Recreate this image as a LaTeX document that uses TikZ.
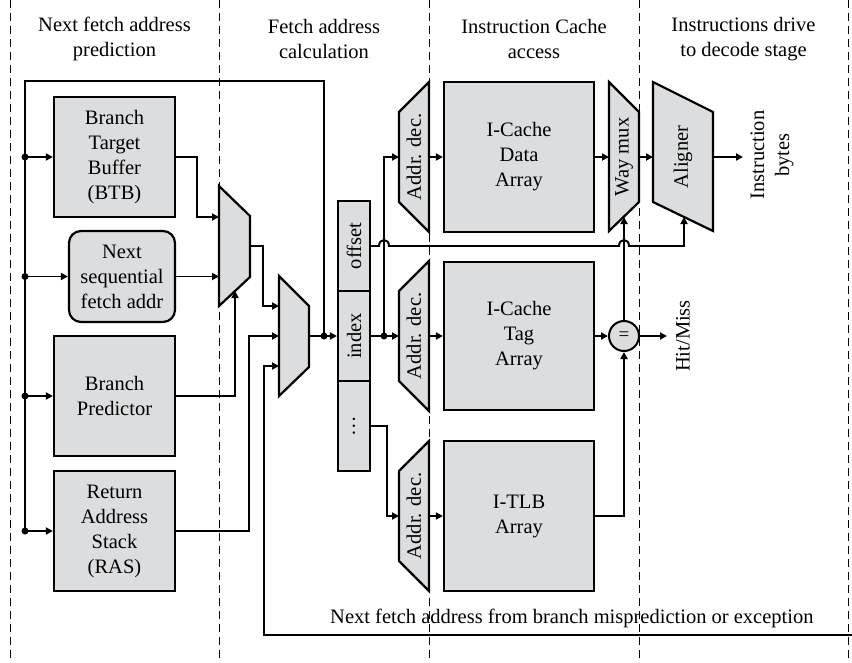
\documentclass[tikz,border=0pt]{standalone}
\usepackage{fontspec}
\setmainfont{Liberation Serif}
\usetikzlibrary{arrows.meta}
\definecolor{boxgray}{RGB}{220,221,223}
\newcommand\myfs{\fontsize{20.5}{25}\selectfont}
\begin{document}
\begin{tikzpicture}[x=1pt,y=-1pt,
  line/.style={line width=1.9pt},
  arr/.style={line width=1.9pt,-{Triangle[length=7pt,width=7pt]}},
  blk/.style={draw,line width=2.2pt,fill=boxgray,align=center,inner sep=0pt,font=\myfs},
  shp/.style={draw,line width=2.2pt,fill=boxgray,line join=miter},
  txt/.style={align=center,inner sep=0pt,font=\myfs},
  rtxt/.style={align=center,inner sep=0pt,font=\myfs,rotate=90},
  dashline/.style={line width=1pt,dash pattern=on 8pt off 5pt},
  dot/.style={circle,fill=black,inner sep=0pt,minimum size=7pt}]
\useasboundingbox (0,0) rectangle (852,662);
% stage separators
\foreach \x in {10,219,429,639,848} \draw[dashline] (\x,0) -- (\x,662);
% headers
\node[txt] (h1) at (114.5,39) {Next fetch address\\prediction};
\node[txt] (h2) at (324,39) {Fetch address\\calculation};
\node[txt] (h3) at (534,39) {Instruction Cache\\access};
\node[txt] (h4) at (743.5,39) {Instructions drive\\to decode stage};
% predictor boxes
\node[blk,minimum width=121pt,minimum height=120pt] (btb) at (114.5,157) {Branch\\Target\\Buffer\\(BTB)};
\node[blk,rounded corners=12pt,minimum width=106pt,minimum height=91pt] (nsa) at (122,276.5) {Next\\sequential\\fetch addr};
\node[blk,minimum width=121pt,minimum height=120pt] (bp) at (114.5,396) {Branch\\Predictor};
\node[blk,minimum width=121pt,minimum height=120pt] (ras) at (114.5,531) {Return\\Address\\Stack\\(RAS)};
% muxes
\draw[shp] (219,186) -- (250,216) -- (250,277) -- (219,306) -- cycle;
\coordinate (m1a) at (219,217);
\coordinate (m1b) at (219,276.5);
\coordinate (m1c) at (235,291);
\coordinate (m1o) at (250,246);
\draw[shp] (279,276) -- (309,306) -- (309,367) -- (279,396) -- cycle;
\coordinate (m2a) at (279,306);
\coordinate (m2b) at (279,336);
\coordinate (m2c) at (279,366);
\coordinate (m2o) at (309,336);
% address fields
\node[blk,minimum width=32pt,minimum height=90pt] (off) at (354,246) {};
\node[blk,minimum width=32pt,minimum height=90pt] (idx) at (354,336) {};
\node[blk,minimum width=32pt,minimum height=90pt] (oth) at (354,426) {};
\node[rtxt] (offt) at (off) {offset};
\node[rtxt] (idxt) at (idx) {index};
\node[rtxt] (otht) at (oth) {\dots};
% address decoders
\draw[shp] (399,112) -- (429,82) -- (429,232) -- (399,202) -- cycle;
\node[rtxt] (ad1) at (414,157) {Addr. dec.};
\draw[shp] (399,291) -- (429,261) -- (429,411) -- (399,381) -- cycle;
\node[rtxt] (ad2) at (414,336) {Addr. dec.};
\draw[shp] (399,471) -- (429,441) -- (429,591) -- (399,561) -- cycle;
\node[rtxt] (ad3) at (414,516) {Addr. dec.};
% arrays
\node[blk,minimum width=150pt,minimum height=150pt] (data) at (519,157) {I-Cache\\Data\\Array};
\node[blk,minimum width=150pt,minimum height=148pt] (tag) at (519,336) {I-Cache\\Tag\\Array};
\node[blk,minimum width=150pt,minimum height=150pt] (tlb) at (519,516) {I-TLB\\Array};
% way mux, aligner
\draw[shp] (609,82) -- (639,112) -- (639,202) -- (609,231) -- cycle;
\node[rtxt] (wm) at (624,157) {Way mux};
\draw[shp] (653,82) -- (713,112) -- (713,231) -- (653,202) -- cycle;
\node[rtxt] (al) at (683,157) {Aligner};
\node[circle,draw,fill=boxgray,line width=2pt,minimum size=30pt,inner sep=0pt,font=\fontsize{19}{20}\selectfont] (cmp) at (624,336) {=};
% outputs text
\node[rtxt] (ib) at (772,155) {Instruction\\bytes};
\node[rtxt] (hm) at (683,336) {Hit/Miss};
\node[txt,anchor=base west] (nf) at (330,623) {Next fetch address from branch misprediction or exception};
% junctions
\node[dot] (d1) at (25,157) {};
\node[dot] (d2) at (25,276.5) {};
\node[dot] (d3) at (25,396) {};
\node[dot] (d4) at (25,531) {};
\node[dot] (j1) at (324,336) {};
\node[dot] (j2) at (384,336) {};
\coordinate (fbR) at (852,635);
% wiring: predictors
\draw[line] (j1.center) -- (324,81) -- (25,81) -- (d4.center);
\draw[arr] (d1.center) -- (btb.west);
\draw[arr] (d2.center) -- (nsa.west);
\draw[arr] (d3.center) -- (bp.west);
\draw[arr] (d4.center) -- (ras.west);
\draw[arr] (btb.east) -- (197,157) |- (m1a);
\draw[arr] (nsa.east) -- (m1b);
\draw[arr] (bp.east) -| (m1c);
\draw[arr] (m1o) -- (263,246) |- (m2a);
\draw[arr] (ras.east) -- (249,531) |- (m2b);
\draw[arr] (fbR) -- (264,635) |- (m2c);
\draw[line] (m2o) -- (j1.center);
\draw[arr] (j1.center) -- (idx.west);
% wiring: index etc.
\draw[line] (idx.east) -- (j2.center);
\draw[arr] (j2.center) -- (399,336);
\draw[arr] (j2.center) -- (384,157) -- (399,157);
\draw[arr] (oth.east) -- (387,426) |- (399,516);
\draw[arr] (off.east) -- (379,246) .. controls (379,238) and (389,238) .. (389,246) -- (619,246) .. controls (619,238) and (629,238) .. (629,246) -| (684,217);
% wiring: cache
\draw[arr] (429,157) -- (data.west);
\draw[arr] (429,336) -- (tag.west);
\draw[arr] (429,516) -- (tlb.west);
\draw[arr] (data.east) -- (609,157);
\draw[arr] (639,157) -- (653,157);
\draw[arr] (713,157) -- (743,157);
\draw[arr] (tag.east) -- (cmp.west);
\draw[arr] (tlb.east) -| (cmp.south);
\draw[arr] (cmp.north) -- (624,217);
\draw[arr] (cmp.east) -- (667,336);
\end{tikzpicture}
\end{document}
